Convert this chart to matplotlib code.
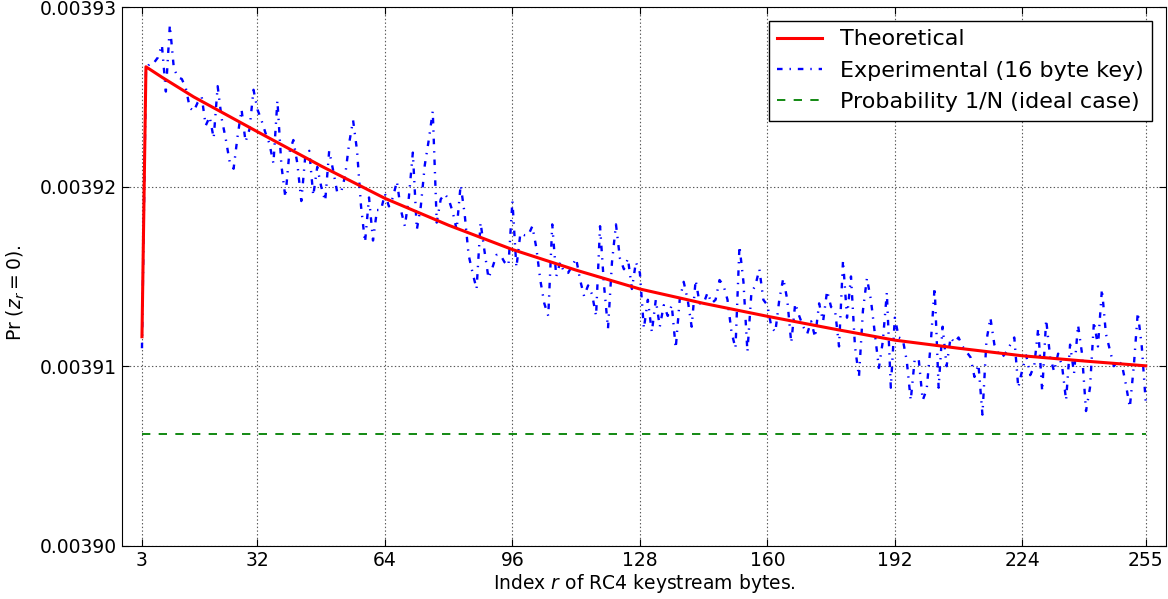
import numpy as np
import matplotlib
matplotlib.use('Agg')
import matplotlib.pyplot as plt
from matplotlib.ticker import FormatStrFormatter

plt.rcParams['lines.scale_dashes'] = False

N = 256

# keystream index r = 3..255
r = np.arange(3, 256)

# experimental Pr(z_r = 0), values x 1e5
pr_exp_e5 = [
    391.10, 392.65, 392.69, 392.69, 392.72, 392.79, 392.53, 392.90, 392.66, 392.61,
    392.60, 392.55, 392.44, 392.42, 392.47, 392.50, 392.34, 392.39, 392.27, 392.56,
    392.38, 392.27, 392.14, 392.10, 392.28, 392.43, 392.25, 392.32, 392.54, 392.43,
    392.37, 392.30, 392.24, 392.13, 392.48, 392.12, 391.94, 392.19, 392.26, 392.13,
    391.92, 392.17, 392.20, 391.95, 392.11, 392.00, 391.92, 392.20, 392.09, 391.97,
    391.97, 392.06, 392.24, 392.37, 392.20, 391.89, 391.69, 391.94, 391.70, 391.87,
    391.87, 391.96, 391.89, 391.94, 392.03, 391.87, 391.78, 391.94, 392.19, 391.76,
    391.89, 392.12, 392.26, 392.42, 391.80, 391.93, 391.96, 391.93, 391.86, 391.76,
    392.01, 391.85, 391.62, 391.52, 391.43, 391.80, 391.64, 391.49, 391.55, 391.62,
    391.62, 391.58, 391.56, 391.92, 391.55, 391.74, 391.73, 391.73, 391.78, 391.66,
    391.48, 391.35, 391.28, 391.79, 391.50, 391.58, 391.52, 391.52, 391.56, 391.60,
    391.48, 391.39, 391.45, 391.40, 391.28, 391.78, 391.45, 391.21, 391.58, 391.79,
    391.60, 391.54, 391.60, 391.43, 391.58, 391.52, 391.21, 391.37, 391.19, 391.37,
    391.22, 391.34, 391.28, 391.34, 391.10, 391.37, 391.47, 391.37, 391.22, 391.48,
    391.35, 391.35, 391.41, 391.35, 391.37, 391.48, 391.45, 391.37, 391.19, 391.10,
    391.67, 391.47, 391.08, 391.41, 391.45, 391.54, 391.37, 391.34, 391.22, 391.19,
    391.37, 391.49, 391.37, 391.13, 391.35, 391.28, 391.22, 391.18, 391.25, 391.16,
    391.35, 391.25, 391.42, 391.33, 391.31, 391.11, 391.59, 391.27, 391.50, 391.11,
    390.94, 391.31, 391.49, 391.37, 391.18, 390.99, 391.14, 391.41, 390.88, 391.27,
    391.16, 391.15, 391.03, 390.81, 391.04, 391.04, 390.81, 390.87, 391.12, 391.44,
    390.88, 391.22, 391.00, 391.16, 391.13, 391.16, 391.11, 391.08, 391.05, 390.94,
    391.01, 390.73, 391.14, 391.27, 391.12, 391.07, 391.05, 391.08, 391.12, 391.16,
    390.88, 390.98, 391.06, 390.95, 391.00, 391.21, 390.86, 391.26, 391.05, 390.97,
    391.07, 391.00, 390.81, 391.12, 390.96, 391.23, 391.07, 390.75, 390.88, 391.25,
    391.11, 391.43, 391.18, 391.09, 391.00, 391.03, 391.01, 390.90, 390.77, 391.00,
    391.30, 391.11, 390.80,
]

# theoretical curve, read at a few indices (x 1e5)
theo_r = [3, 4, 8, 16, 32, 48, 64, 80, 96, 112, 128, 144, 160, 176, 192, 208, 224, 240, 255]
theo_e5 = [391.164, 392.668, 392.61, 392.50, 392.306, 392.115, 391.935, 391.785, 391.65,
           391.535, 391.43, 391.35, 391.278, 391.21, 391.145, 391.10, 391.058, 391.028, 391.002]

xticks = [3, 32, 64, 96, 128, 160, 192, 224, 255]
yticks = [0.00390, 0.00391, 0.00392, 0.00393]

pr_exp = np.array(pr_exp_e5) * 1e-5
pr_theo = np.array(theo_e5) * 1e-5

fig = plt.figure(figsize=(11.68, 5.99), dpi=100)
ax = fig.add_axes([0.1045, 0.089, 0.8935, 0.899])

ax.plot(theo_r, pr_theo, color='r', lw=2.2, label='Theoretical', zorder=3)
ax.plot(r, pr_exp, color='b', lw=1.7, dashes=(4, 5, 1, 5),
        label='Experimental (16 byte key)', zorder=2)
ax.plot([r[0], r[-1]], [1.0 / N, 1.0 / N], color='g', lw=1.3, dashes=(6, 6),
        label='Probability 1/N (ideal case)')

ax.set_xlim(-2, 260)
ax.set_ylim(0.00390, 0.00393)
ax.set_xticks(xticks)
ax.set_yticks(yticks)
ax.yaxis.set_major_formatter(FormatStrFormatter('%.5f'))
ax.tick_params(direction='in', top=True, right=True, labelsize=13.5, length=5)
ax.grid(True, color='0.35', linestyle=':', linewidth=0.8)

ax.set_xlabel('Index $r$ of RC4 keystream bytes.', fontsize=13.5, labelpad=2)
ax.set_ylabel('Pr $(z_r=0)$.', fontsize=13.5)
ax.yaxis.set_label_coords(-0.091, 0.47)

leg = ax.legend(loc='upper right', fontsize=16, fancybox=False, framealpha=1,
                borderaxespad=0.6, handlelength=2.0)
leg.get_frame().set_edgecolor('k')

fig.savefig('out.png', dpi=100)
